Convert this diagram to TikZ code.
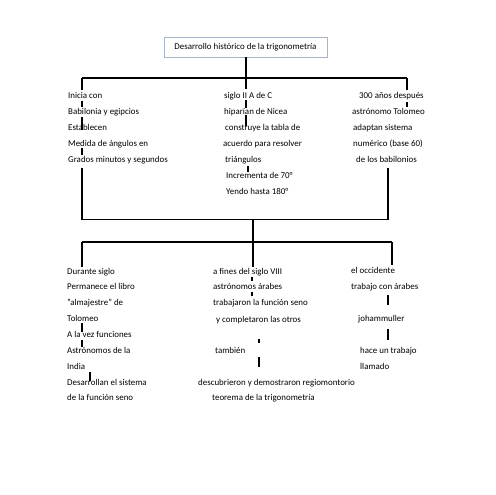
\documentclass[tikz,border=0pt]{standalone}
\usepackage{fontspec}
\setmainfont{Carlito}
\begin{document}
\begin{tikzpicture}[x=1pt,y=-1pt,
  lbl/.style={anchor=west,inner sep=0pt,text height=6pt,text depth=2pt,font=\fontsize{8.9}{10}\selectfont},
  conn/.style={line width=1.6pt,black},
  bar/.style={line width=1.6pt,black},
  titlebox/.style={draw={rgb,255:red,165;green,180;blue,200},line width=0.8pt,minimum width=163pt,minimum height=20pt,inner sep=0pt,font=\fontsize{8.9}{10}\selectfont}]
\useasboundingbox[fill=white] (0,0) rectangle (495,495);

\node[titlebox] (t) at (245.5,47) {Desarrollo histórico de la trigonometría};

% top left column
\node[lbl] (a1) at (68,96) {Inicia con};
\node[lbl] (a2) at (68,112) {Babilonia y egipcios};
\node[lbl] (a3) at (68,128) {Establecen};
\node[lbl] (a4) at (68,144) {Medida de ángulos en};
\node[lbl] (a5) at (68,160) {Grados minutos y segundos};
% top middle column
\node[lbl] (b1) at (224,96) {siglo II A de C};
\node[lbl] (b2) at (224,112) {hiparían de Nicea};
\node[lbl] (b3) at (225,128) {construye la tabla de};
\node[lbl] (b4) at (223,144) {acuerdo para resolver};
\node[lbl] (b5) at (225,160) {triángulos};
\node[lbl] (b6) at (226,176) {Incrementa de 70°};
\node[lbl] (b7) at (226,192) {Yendo hasta 180°};
% top right column
\node[lbl] (c1) at (359,96) {300 años después};
\node[lbl] (c2) at (352,112) {astrónomo Tolomeo};
\node[lbl] (c3) at (353,128) {adaptan sistema};
\node[lbl] (c4) at (353,144) {numérico (base 60)};
\node[lbl] (c5) at (356,160) {de los babilonios};
% bottom left column
\node[lbl] (d1) at (67,272) {Durante siglo};
\node[lbl] (d2) at (67,287) {Permanece el libro};
\node[lbl] (d3) at (67,303) {"almajestre" de};
\node[lbl] (d4) at (67,319) {Tolomeo};
\node[lbl] (d5) at (67,335) {A la vez funciones};
\node[lbl] (d6) at (67,351) {Astrónomos de la};
\node[lbl] (d7) at (67,367) {India};
\node[lbl] (d8) at (67,383) {Desarrollan el sistema};
\node[lbl] (d9) at (67,398) {de la función seno};
% bottom middle column
\node[lbl] (e1) at (213,272) {a fines del siglo VIII};
\node[lbl] (e2) at (213,287) {astrónomos árabes};
\node[lbl] (e3) at (213,303) {trabajaron la función seno};
\node[lbl] (e4) at (216,320) {y completaron las otros};
\node[lbl] (e5) at (215,351) {también};
\node[lbl] (e6) at (198,383) {descubrieron y demostraron regiomontorio};
\node[lbl] (e7) at (212,398) {teorema de la trigonometría};
% bottom right column
\node[lbl] (f1) at (351,271) {el occidente};
\node[lbl] (f2) at (351,287) {trabajo con árabes};
\node[lbl] (f3) at (358,319) {johammuller};
\node[lbl] (f4) at (360,351) {hace un trabajo};
\node[lbl] (f5) at (360,367) {llamado};

% junction coordinates
\coordinate (tj) at (246,78);
\coordinate (tl) at (82,78);
\coordinate (tr) at (407,78);
\coordinate (la) at (82,90);
\coordinate (ma) at (246,89);
\coordinate (ra) at (407,90);
\coordinate (lb) at (82,168);
\coordinate (rb) at (388,168);
\coordinate (jl) at (82,219.5);
\coordinate (jr) at (388,219.5);
\coordinate (jm) at (253,219.5);
\coordinate (km) at (253,242);
\coordinate (kl) at (82,242);
\coordinate (kr) at (392,242);
\coordinate (dl) at (82,267);
\coordinate (dm) at (253,267);
\coordinate (dr) at (392,265);

% tree connectors
\draw[conn] (t.south -| tj) -- (tj);
\draw[conn] (tl) -- (tr);
\draw[conn] (tl) -- (la);
\draw[conn] (tj) -- (ma);
\draw[conn] (tr) -- (ra);
\draw[conn] (lb) -- (jl) -- (jr) -- (rb);
\draw[conn] (jm) -- (km);
\draw[conn] (kl) -- (kr);
\draw[conn] (kl) -- (dl);
\draw[conn] (km) -- (dm);
\draw[conn] (kr) -- (dr);

% small bars between lines
\draw[bar] (82,101) -- (82,107);
\draw[bar] (82,117) -- (82,130);
\draw[bar] (82,148) -- (82,155);
\draw[bar] (246,100) -- (246,108);
\draw[bar] (246,115) -- (246,126);
\draw[bar] (248,166) -- (248,172);
\draw[bar] (407,102) -- (407,107);
\draw[bar] (82,323) -- (82,332);
\draw[bar] (82,340) -- (82,347);
\draw[bar,line width=2pt] (90,372) -- (90,381);
\draw[bar] (252,277) -- (252,281);
\draw[bar] (252,292) -- (252,296);
\draw[bar] (259,339) -- (259,343);
\draw[bar,line width=2pt] (259,357) -- (259,367);
\draw[bar] (388,295) -- (388,305);
\draw[bar] (388,329) -- (388,340);
\end{tikzpicture}
\end{document}
